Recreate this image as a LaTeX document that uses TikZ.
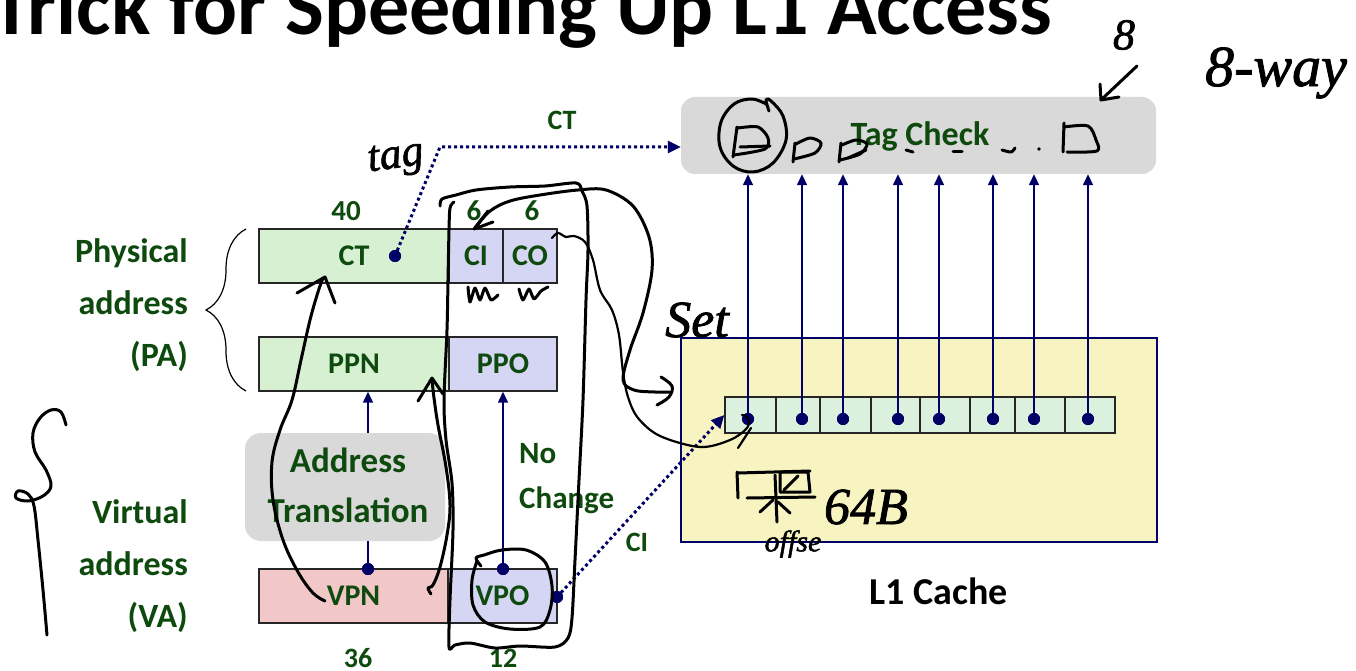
\documentclass[tikz,border=0pt]{standalone}
\usepackage{fontspec}
\setmainfont{Carlito}
\newfontfamily\hand[FakeBold=1.5]{Liberation Serif}
\usetikzlibrary{arrows.meta,decorations.pathreplacing,fit}

\definecolor{tgreen}{HTML}{0E4A0E}
\definecolor{navy}{HTML}{000066}
\definecolor{fgreen}{HTML}{D7F0D2}
\definecolor{flav}{HTML}{D5D6F3}
\definecolor{fpink}{HTML}{F2C7C7}
\definecolor{fgray}{HTML}{D9D9D9}
\definecolor{fyellow}{HTML}{F7F4C2}
\definecolor{fblock}{HTML}{DBF1DD}
\definecolor{boxline}{HTML}{262626}

\tikzset{
  sl/.style={font=\bfseries\fontsize{#1}{#1}\selectfont, text=tgreen, inner sep=0pt},
  field/.style={draw=boxline, line width=1.4pt, minimum height=54pt, inner sep=0pt,
    font=\bfseries\fontsize{30}{30}\selectfont, text=tgreen},
  blk/.style={draw=boxline, line width=1.4pt, fill=fblock, inner sep=0pt},
  dot/.style={circle, fill=navy, minimum size=12pt, inner sep=0pt},
  navline/.style={draw=navy, line width=1.5pt},
  navtip/.style={-{Triangle[length=11pt,width=10pt]}},
  dotline/.style={draw=navy, line width=3pt, dash pattern=on 3pt off 3pt,
    -{Triangle[length=13pt,width=12pt]}},
  ink/.style={draw=black, line width=3pt, line cap=round, line join=round},
  thinink/.style={draw=black, line width=2.2pt, line cap=round, line join=round},
  handtext/.style={font=\hand\itshape\fontsize{#1}{#1}\selectfont, inner sep=0pt}
}

\begin{document}
\begin{tikzpicture}[x=1pt,y=-1pt]
\useasboundingbox (0,0) rectangle (1356,671);
\fill[white] (0,0) rectangle (1356,671);

% slide title, running off the top edge
\begin{scope}
  \clip (0,0) rectangle (1356,671);
  \node[anchor=base west, inner sep=0pt, font=\bfseries\fontsize{82}{82}\selectfont] (title) at (-9,35) {Trick for Speeding Up L1 Access};
\end{scope}

% tag comparison unit
\node[fill=fgray, rounded corners=14pt, minimum width=475pt, minimum height=77pt, inner sep=0pt] (tag) at (918.5,135.5) {};
\node[sl=34, anchor=base] (tagtxt) at (920,146) {Tag Check};

% L1 cache with one set of eight lines
\node[fill=fyellow, draw=navy, line width=2.5pt, minimum width=476pt, minimum height=204pt, inner sep=0pt] (cache) at (919,440) {};
\node[font=\bfseries\fontsize{38}{38}\selectfont, inner sep=0pt] (cachelbl) at (939,591) {L1 Cache};

\foreach \i/\l/\r/\d in {1/725/776/748, 2/776/820/802, 3/820/871/843, 4/871/920/898,
                         5/920/970/939, 6/970/1015/993, 7/1015/1065/1034, 8/1065/1115/1088}{
  \node[blk, fit={(\l,397) (\r,433)}] (b\i) {};
  \node[dot] (d\i) at (\d,419) {};
  \draw[navline, navtip] (d\i.center) -- (d\i |- tag.south);
  \node[dot] at (d\i) {};
}

% physical address fields
\node[field, fill=fgreen, minimum width=190pt] (ct) at (354,256) {CT};
\node[field, fill=flav, minimum width=54pt] (ci) at (476,256) {CI};
\node[field, fill=flav, minimum width=54pt] (co) at (530,256) {CO};
\node[field, fill=fgreen, minimum width=190pt] (ppn) at (354,364) {PPN};
\node[field, fill=flav, minimum width=108pt] (ppo) at (503,364) {PPO};

% virtual address fields
\node[field, fill=fpink, minimum width=189pt] (vpn) at (353.5,596) {VPN};
\node[field, fill=flav, minimum width=109pt] (vpo) at (502.5,596) {VPO};

% address translation
\node[fill=fgray, rounded corners=16pt, minimum width=200pt, minimum height=108pt, inner sep=0pt] (xlat) at (345,487) {};
\node[sl=35, anchor=base] (xl1) at (348,472) {Address};
\node[sl=35, anchor=base] (xl2) at (348,522) {Translation};

% tap points
\node[dot] (ctdot) at (395,256) {};
\node[dot] (vpndot) at (368,569) {};
\node[dot] (vpodot) at (503,569) {};
\node[dot] (vpor) at (557,597) {};

\draw[navline] (vpndot.center) -- (vpndot |- xlat.south);
\draw[navline, navtip] (vpndot |- xlat.north) -- (vpndot |- ppn.south);
\draw[navline, navtip] (vpodot.center) -- (vpodot |- ppo.south);
\node[dot] at (vpndot) {};
\node[dot] at (vpodot) {};

\coordinate (bend) at (440,147);
\draw[dotline] (ctdot.center) -- (bend) -- (bend -| tag.west);
\draw[dotline] (vpor.center) -- (b1.west);
\node[dot] at (ctdot) {};
\node[dot] at (vpor) {};

% labels
\node[sl=28] (lct) at (562,120) {CT};
\node[sl=28] (lci) at (637,542) {CI};
\node[sl=29] (n40) at (346,211) {40};
\node[sl=29] (n6a) at (474,211) {6};
\node[sl=29] (n6b) at (532,211) {6};
\node[sl=28] (n36) at (358,658) {36};
\node[sl=28] (n12) at (503,658) {12};
\node[sl=31, anchor=base west] (nc1) at (519,463) {No};
\node[sl=31, anchor=base west] (nc2) at (519,508) {Change};

\node[sl=34, anchor=base east] (pa1) at (188,262) {Physical};
\node[sl=34, anchor=base east] (pa2) at (188,314) {address};
\node[sl=34, anchor=base east] (pa3) at (188,366) {(PA)};
\node[sl=34, anchor=base east] (va1) at (188,523) {Virtual};
\node[sl=34, anchor=base east] (va2) at (188,575) {address};
\node[sl=34, anchor=base east] (va3) at (188,627) {(VA)};

\draw[line width=1.2pt, decorate, decoration={brace, amplitude=40pt}] (246,391) -- (246,229);

% ---------------- pen annotations ----------------
% curly mark beside the virtual address
\draw[ink] plot[smooth, tension=0.6] coordinates {(66,425) (61,412) (51,410) (40,418) (33,433) (35,452) (46,470) (51,486) (43,496) (28,501) (16,498) (18,491) (28,494) (34,506) (38,540) (43,590) (47,635)};

% VPN -> CT
\draw[ink] plot[smooth, tension=0.6] coordinates {(325,601) (313,593) (298,572) (283,540) (273,500) (272,462) (280,430) (292,400) (301,360) (310,320) (318,292) (323,278)};
\draw[ink] (297,293) -- (325,277) -- (335,303);

% VPN -> PPN
\draw[ink] plot[smooth, tension=0.6] coordinates {(431,594) (428,588) (433,585) (440,567) (447,535) (450,505) (446,467) (438,425) (434,398) (432,380)};
\draw[ink] (418,401) -- (432,378) -- (443,394);

% loop around the untranslated offset bits
\draw[ink] plot[smooth, tension=0.5] coordinates {(440,206) (442,199) (456,195) (476,190) (510,187) (545,186) (576,183) (582,191) (587,206) (588,250) (586,300) (583,400) (579,480) (575,560) (572,618) (568,638) (555,647) (520,646) (495,648) (470,643) (455,645) (449,647) (450,600) (453,530) (452,483) (446,440) (444,400) (447,330) (448,280) (449,230) (450,208) (454,202)};

% CI -> set
\draw[ink] plot[smooth, tension=0.55] coordinates {(476,227) (490,211) (510,201) (540,195) (578,190) (606,190) (633,206) (649,237) (652,270) (643,313) (630,350) (623,380) (634,390) (655,392) (670,392)};
\draw[ink] (488,211) -- (474,229) -- (493,222);
\draw[ink] plot[smooth, tension=0.6] coordinates {(661,377) (672,386) (669,397) (657,405)};

% CO -> line offset
\draw[thinink] plot[smooth, tension=0.55] coordinates {(552,238) (558,233) (566,237) (574,236) (585,242) (593,260) (600,290) (612,310) (619,335) (623,372) (628,397) (638,418) (660,436) (700,447) (730,440) (747,428) (748,418) (742,415)};
\draw[thinink] (751,428) -- (738,448);

% circle around VPO
\draw[ink] plot[smooth, tension=0.55] coordinates {(481,566) (476,558) (484,555) (502,550) (526,550) (545,562) (552,586) (550,610) (540,627) (510,629) (485,622) (473,605) (472,580) (477,561)};

% bit-count scribbles under CI and CO
\draw[ink] plot[smooth, tension=0.4] coordinates {(468,287) (470,302) (475,288) (480,300) (485,288) (491,300) (498,295)};
\draw[ink] plot[smooth, tension=0.4] coordinates {(519,289) (523,300) (529,289) (534,299) (541,291) (548,287)};

% tag comparisons sketched inside the tag check
\draw[ink] plot[smooth, tension=0.6] coordinates {(766,104) (752,99) (734,104) (721,122) (720,147) (733,166) (753,172) (773,163) (786,140) (783,116) (771,101) (766,100) (769,111)};
\draw[ink] (737,127) -- (733,157);
\draw[ink] plot[smooth, tension=0.5] coordinates {(738,128) (758,127) (768,138) (765,149) (734,155)};
\draw[ink] (740,147) -- (770,146);
\draw[ink] (795,143) -- (793,162);
\draw[ink] plot[smooth, tension=0.5] coordinates {(796,144) (810,138) (821,143) (815,153) (794,159)};
\draw[ink] (841,143) -- (839,162);
\draw[ink] plot[smooth, tension=0.5] coordinates {(842,145) (856,140) (867,144) (860,154) (840,160)};
\draw[ink] (848,158) -- (866,150);
\draw[ink] (906,150) -- (913,152);
\draw[ink] (953,152) -- (962,152);
\draw[ink] plot[smooth] coordinates {(1002,150) (1011,152) (1015,148)};
\fill (1039,149) circle (1.8pt);
\draw[ink] (1064,123) -- (1063,152);
\draw[ink] plot[smooth, tension=0.5] coordinates {(1064,127) (1088,126) (1096,140) (1097,151) (1067,152)};

% associativity note
\node[handtext=44] (h8) at (1124,35) {8};
\draw[ink] (1137,66) -- (1102,99);
\draw[ink] (1100,84) -- (1101,100) -- (1119,97);
\node[handtext=58] (hway) at (1276,73) {8-way};

% remaining pen notes
\node[handtext=44, rotate=8] (htag) at (396,160) {tag};
\node[handtext=52] (hset) at (697,320) {Set};
\node[handtext=52] (h64) at (866,507) {64B};
\node[handtext=30] (hoff) at (793,544) {offse};

% character written above the offset note
\draw[ink] (737,472) -- (738,498);
\draw[ink] (738,473) -- (810,471);
\draw[ink] (780,472) -- (808,472) -- (810,492) -- (780,492) -- cycle;
\draw[ink] (784,490) -- (798,476);
\draw[ink] (747,498) -- (815,497);
\draw[ink] (775,475) -- (777,522);
\draw[ink] (773,500) -- (760,512);
\draw[ink] (778,502) -- (790,513);

\end{tikzpicture}
\end{document}
